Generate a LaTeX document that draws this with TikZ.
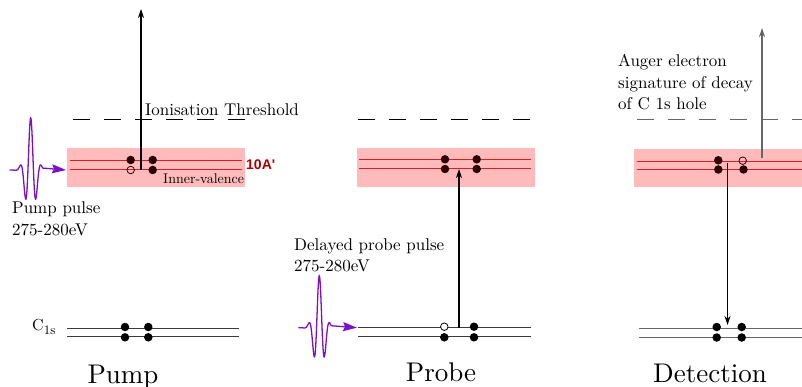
\documentclass[tikz,border=0pt]{standalone}
\usepackage{fontspec}
\usepackage{graphicx}
\setmainfont{lmroman10-regular.otf}
\newfontfamily\labelsans{Liberation Sans}
\usetikzlibrary{arrows.meta}

\definecolor{bandfill}{HTML}{FFBBBB}
\definecolor{bandline}{HTML}{D42020}
\definecolor{bandlabel}{HTML}{AA0000}
\definecolor{pulsecol}{HTML}{7A10C8}
\definecolor{elec}{HTML}{2B0000}
\definecolor{coreline}{HTML}{3A3A3A}
\definecolor{fadeline}{HTML}{666666}

\tikzset{
  band/.style={fill=bandfill, draw=none},
  orbital/.style={draw=bandline, line width=1pt},
  coreorb/.style={draw=coreline, line width=1.1pt},
  thresh/.style={line width=1pt, dash pattern=on 17pt off 14pt},
  electron/.style={circle, fill=elec, inner sep=0pt, minimum size=8.5pt},
  coreel/.style={electron, fill=black},
  hole/.style={circle, draw=elec, fill=none, inner sep=0pt, minimum size=7.5pt, line width=0.8pt},
  excite/.style={line width=1.1pt, -{Stealth[length=9pt,width=6pt]}},
  pulse/.style={draw=pulsecol, line width=1.3pt, -{Stealth[length=14pt,width=9pt,inset=2pt]}},
  txt/.style={font=\fontsize{17}{21.5}\selectfont, inner sep=0pt, anchor=base west, align=left},
  stage/.style={font=\fontsize{27}{30}\selectfont, inner sep=0pt, anchor=base},
}

% Gaussian-enveloped light pulse: centre x, baseline y, arrow target
\newcommand\lightpulse[3]{%
  \draw[pulse] plot[domain=-21:12, samples=160, smooth]
    ({#1+\x},{#2-52*cos(360*\x/11)*exp(-(\x/6.8)^2)}) -- (#3);
}

\begin{document}
\begin{tikzpicture}[x=1pt,y=-1pt]
\useasboundingbox (0,0) rectangle (802,387);

% ---------------- Pump ----------------
\fill[band] (67,148) rectangle (245,187);
\draw[thresh] (73,120) -- (245,120);
\node[txt] (thr) at (145,115.5) {Ionisation Threshold};
\draw[orbital] (70,161) -- (242,161);
\draw[orbital] (70,170) -- (242,170);
\node[electron] (pv1) at (130.7,160) {};
\node[electron] (pv2) at (152.7,160) {};
\node[hole]     (pv3) at (130.7,170) {};
\node[electron] (pv4) at (152.7,170) {};
\node[inner sep=0pt, anchor=base west, text=bandlabel, font=\labelsans\bfseries\fontsize{14}{16}\selectfont] (lbl10a) at (246,169.3) {10A'};
\node[inner sep=0pt, anchor=base west, font=\fontsize{14}{16}\selectfont] (inval) at (163,183.3) {Inner-valence};
\coordinate (pumpStart) at (141,170);
\coordinate (pumpOut) at (141,9);
\draw[excite] (pumpStart) -- (pumpOut);

\coordinate (pumpHit) at (66,170);
\lightpulse{30.7}{170}{pumpHit}
% multi-line nodes sit on the baseline of their last line
\node[txt] (pumptxt) at (12,235) {Pump pulse\\275-280eV};

\draw[coreorb] (67,328.3) -- (239,328.3);
\draw[coreorb] (67,336.8) -- (239,336.8);
\node[coreel] (pc1) at (125,327) {};
\node[coreel] (pc2) at (148.3,327) {};
\node[coreel] (pc3) at (125,337.3) {};
\node[coreel] (pc4) at (148.3,337.3) {};
\node[inner sep=0pt, anchor=base west, font=\fontsize{16}{18}\selectfont] (c1s) at (32,330.7)
  {C\raisebox{-4pt}{\fontsize{13}{15}\selectfont 1s}};
\node[stage] (pumplbl) at (123,383) {Pump};

% ---------------- Probe ----------------
\fill[band] (357,148) rectangle (535,187);
\draw[thresh] (358,120) -- (531,120);
\draw[orbital] (359,160) -- (531,160);
\draw[orbital] (359,168.7) -- (531,168.7);
\node[electron] (rv1) at (445,159.3) {};
\node[electron] (rv2) at (476.7,159.3) {};
\node[electron] (rv3) at (445,169) {};
\node[electron] (rv4) at (476.7,169) {};

\draw[coreorb] (358,327.7) -- (531,327.7);
\draw[coreorb] (358,336.3) -- (531,336.3);
\node[hole, draw=black, fill=white] (rc1) at (444.3,326.7) {};
\node[coreel] (rc2) at (474,326.7) {};
\node[coreel] (rc3) at (444.3,337.3) {};
\node[coreel] (rc4) at (474,337.3) {};
\coordinate (probeStart) at (459,327.7);
\coordinate (probeEnd) at (459,169);
\draw[excite] (probeStart) -- (probeEnd);

\coordinate (probeHit) at (357,327.7);
\lightpulse{319.3}{327.7}{probeHit}
\node[txt] (probetxt) at (294,271.7) {Delayed probe pulse\\275-280eV};
\node[stage] (probelbl) at (441,381.7) {Probe};

% ---------------- Detection ----------------
\fill[band] (634,149) rectangle (802,187);
\draw[thresh, draw=fadeline] (637,119.5) -- (802,119.5);
\draw[orbital] (637,161.7) -- (802,161.7);
\draw[orbital] (637,169.3) -- (802,169.3);
\node[electron] (dv1) at (718.3,160.3) {};
\node[hole]     (dv2) at (742.7,160.7) {};
\node[electron] (dv3) at (718.3,169.5) {};
\node[electron] (dv4) at (743.5,169.5) {};
\coordinate (augerStart) at (762,158);
\coordinate (augerOut) at (762,28);
\draw[excite, draw=fadeline, fill=fadeline] (augerStart) -- (augerOut);
\node[txt] (augertxt) at (618,110) {Auger electron\\signature of decay\\of C 1s hole};

\draw[coreorb, draw=fadeline] (639,328.3) -- (802,328.3);
\draw[coreorb, draw=fadeline] (639,337.7) -- (802,337.7);
\node[coreel] (dc1) at (716.7,327) {};
\node[coreel] (dc2) at (741.7,327) {};
\node[coreel] (dc3) at (716.7,337.5) {};
\node[coreel] (dc4) at (741.7,337.5) {};
\coordinate (decayStart) at (727.5,163);
\coordinate (decayEnd) at (727.5,325);
\draw[excite] (decayStart) -- (decayEnd);
\node[stage] (detlbl) at (710,382) {Detection};

\end{tikzpicture}
\end{document}
